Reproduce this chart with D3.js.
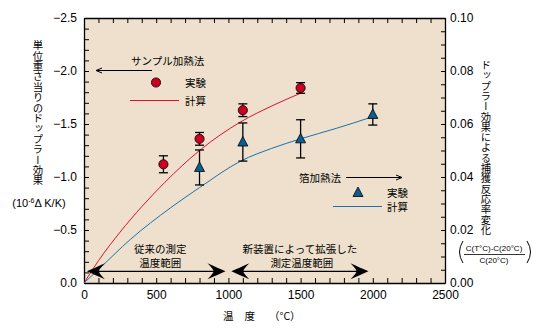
<!DOCTYPE html>
<html><head><meta charset="utf-8">
<script src="https://cdn.jsdelivr.net/npm/d3@7"></script>
<style>
body{margin:0;background:#fff}
svg{display:block}
text{font-family:"Liberation Sans",Arial,sans-serif;fill:#000}
.jp{font-family:"Noto Sans CJK JP",sans-serif}
</style></head><body>
<svg id="c" width="558" height="332"></svg>
<script>
// ---- data ----
const sampleTemp = [550, 800, 1100, 1500];
const sampleVal  = [-1.12, -1.36, -1.63, -1.84];
const sampleErr  = [0.08, 0.06, 0.06, 0.05];
const foilTemp   = [800, 1100, 1500, 2000];
const foilVal    = [-1.09, -1.33, -1.36, -1.59];
const foilErr    = [0.165, 0.18, 0.18, 0.10];
const calcSampleT = [0, 100, 250, 400, 560, 800, 1085, 1300, 1500];
const calcSampleV = [0, -0.21, -0.48, -0.72, -0.95, -1.25, -1.52, -1.67, -1.79];
const calcFoilT   = [0, 110, 320, 600, 800, 1085, 1300, 1500, 1750, 1980];
const calcFoilV   = [0, -0.14, -0.41, -0.71, -0.90, -1.15, -1.27, -1.36, -1.46, -1.56];
const xTicks = [0, 500, 1000, 1500, 2000, 2500];
const yTicks = [0, -0.5, -1.0, -1.5, -2.0, -2.5];
const y2Ticks = [0, 0.02, 0.04, 0.06, 0.08, 0.10];
const oldRange = [20, 980];
const newRange = [1020, 1970];

// ---- layout ----
const L = 84, R = 445, T = 18, B = 283;
const svg = d3.select("#c");
const x = d3.scaleLinear().domain([0, 2500]).range([L, R]);
const y = d3.scaleLinear().domain([0, -2.5]).range([B, T]);
const y2 = d3.scaleLinear().domain([0, 0.10]).range([B, T]);

svg.append("rect").attr("x", L).attr("y", T).attr("width", R - L).attr("height", B - T)
  .attr("fill", "rgb(238,224,205)");

// axes
const minorX = d3.range(0, 2501, 100);
const minorY = d3.range(0, 26).map(i => -i / 10);
const minorY2 = d3.range(0, 21).map(i => i * 0.005);

function styleAxis(g) {
  g.selectAll("path.domain").attr("stroke", "#000").attr("stroke-width", 1.3);
  g.selectAll("line").attr("stroke", "#000");
  g.selectAll("text").attr("font-size", 12).attr("fill", "#000").style("font-family", '"Liberation Sans",Arial,sans-serif');
}
svg.append("g").attr("transform", `translate(0,${B})`)
  .call(d3.axisBottom(x).tickValues(minorX).tickSize(-5).tickSizeOuter(0).tickFormat(""))
  .call(styleAxis);
svg.append("g").attr("transform", `translate(0,${B})`)
  .call(d3.axisBottom(x).tickValues(xTicks).tickSize(0).tickPadding(7).tickFormat(d3.format("d")))
  .call(g => g.select(".domain").remove()).call(styleAxis);
svg.append("g").attr("transform", `translate(0,${T})`)
  .call(d3.axisTop(x).tickValues(minorX).tickSize(-5).tickSizeOuter(0).tickFormat(""))
  .call(styleAxis);
svg.append("g").attr("transform", `translate(${L},0)`)
  .call(d3.axisLeft(y).tickValues(minorY).tickSize(-5).tickSizeOuter(0).tickFormat(""))
  .call(styleAxis);
svg.append("g").attr("transform", `translate(${L},0)`)
  .call(d3.axisLeft(y).tickValues(yTicks).tickSize(0).tickPadding(7).tickFormat(d3.format(".1f")))
  .call(g => g.select(".domain").remove()).call(styleAxis);
svg.append("g").attr("transform", `translate(${R},0)`)
  .call(d3.axisRight(y2).tickValues(minorY2).tickSize(-4).tickSizeOuter(0).tickFormat(""))
  .call(styleAxis);
svg.append("g").attr("transform", `translate(${R},0)`)
  .call(d3.axisRight(y2).tickValues(y2Ticks).tickSize(0).tickPadding(5).tickFormat(d3.format(".2f")))
  .call(g => g.select(".domain").remove()).call(styleAxis);

// curves
const line = d3.line().curve(d3.curveMonotoneX).x(d => x(d[0])).y(d => y(d[1]));
svg.append("path").datum(d3.zip(calcSampleT, calcSampleV)).attr("d", line)
  .attr("fill", "none").attr("stroke", "#e0102e").attr("stroke-width", 1);
svg.append("path").datum(d3.zip(calcFoilT, calcFoilV)).attr("d", line)
  .attr("fill", "none").attr("stroke", "#1672b0").attr("stroke-width", 1);

// error bars
function errBars(T_, V_, E_) {
  const g = svg.append("g").attr("stroke", "#000").attr("stroke-width", 1.3);
  T_.forEach((t, i) => {
    const cx = x(t), y0 = y(V_[i] - E_[i]), y1 = y(V_[i] + E_[i]);
    g.append("line").attr("x1", cx).attr("x2", cx).attr("y1", y0).attr("y2", y1);
    g.append("line").attr("x1", cx - 4.5).attr("x2", cx + 4.5).attr("y1", y0).attr("y2", y0);
    g.append("line").attr("x1", cx - 4.5).attr("x2", cx + 4.5).attr("y1", y1).attr("y2", y1);
  });
}
errBars(sampleTemp, sampleVal, sampleErr);
errBars(foilTemp, foilVal, foilErr);

const circleFill = "#cc0022", triFill = "#0b5f90";
const triPath = "M0,-5.5 L5,4 L-5,4 Z";
sampleTemp.forEach((t, i) => {
  svg.append("circle").attr("cx", x(t)).attr("cy", y(sampleVal[i])).attr("r", 4.6)
    .attr("fill", circleFill).attr("stroke", "#000").attr("stroke-width", 0.8);
});
foilTemp.forEach((t, i) => {
  svg.append("path").attr("d", triPath).attr("transform", `translate(${x(t)},${y(foilVal[i])})`)
    .attr("fill", triFill).attr("stroke", "#000").attr("stroke-width", 0.8);
});

// legends
function jp(tx, ty, s, anchor) {
  return svg.append("text").attr("class", "jp").attr("x", tx).attr("y", ty)
    .attr("font-size", 10.5).attr("text-anchor", anchor || "start").attr("dominant-baseline", "central").text(s);
}
// sample heating legend
jp(131, 60, "サンプル加熱法");
svg.append("line").attr("x1", 96).attr("x2", 152).attr("y1", 70.5).attr("y2", 70.5).attr("stroke", "#000").attr("stroke-width", 1);
svg.append("path").attr("d", "M96,70.5 L102,68 M96,70.5 L102,73").attr("stroke", "#000").attr("fill", "none");
svg.append("circle").attr("cx", 156).attr("cy", 82.5).attr("r", 4.6).attr("fill", circleFill).attr("stroke", "#000").attr("stroke-width", 0.8);
jp(185, 82, "実験");
svg.append("line").attr("x1", 130).attr("x2", 179).attr("y1", 100.5).attr("y2", 100.5).attr("stroke", "#e0102e");
jp(185, 100, "計算");
// foil heating legend
jp(299, 177, "箔加熱法");
svg.append("line").attr("x1", 346).attr("x2", 402).attr("y1", 177.5).attr("y2", 177.5).attr("stroke", "#000");
svg.append("path").attr("d", "M402,177.5 L396,175 M402,177.5 L396,180").attr("stroke", "#000").attr("fill", "none");
svg.append("path").attr("d", triPath).attr("transform", "translate(358,192.5)").attr("fill", triFill).attr("stroke", "#000").attr("stroke-width", 0.8);
jp(387, 192, "実験");
svg.append("line").attr("x1", 333).attr("x2", 382).attr("y1", 206.5).attr("y2", 206.5).attr("stroke", "#1672b0");
jp(387, 206, "計算");

// range arrows
const arrowY = y(-0.11);
const headPath = "M0,0 C5,-2 11,-5 18,-8 C14,-4 12,-1.5 12,0 C12,1.5 14,4 18,8 C11,5 5,2 0,0 Z";
function rangeArrow(r) {
  const a = x(r[0]), b = x(r[1]);
  svg.append("line").attr("x1", a + 6).attr("x2", b - 6).attr("y1", arrowY).attr("y2", arrowY).attr("stroke", "#000").attr("stroke-width", 1.3);
  svg.append("path").attr("d", headPath).attr("transform", `translate(${a},${arrowY})`).attr("fill", "#000");
  svg.append("path").attr("d", headPath).attr("transform", `translate(${b},${arrowY}) scale(-1,1)`).attr("fill", "#000");
}
rangeArrow(oldRange);
rangeArrow(newRange);
jp((x(oldRange[0]) + x(oldRange[1])) / 2 + 4, 248, "従来の測定", "middle");
jp((x(oldRange[0]) + x(oldRange[1])) / 2 + 4, 262, "温度範囲", "middle");
jp((x(newRange[0]) + x(newRange[1])) / 2, 248, "新装置によって拡張した", "middle");
jp((x(newRange[0]) + x(newRange[1])) / 2 + 2, 262, "測定温度範囲", "middle");

// axis titles
svg.append("text").attr("class", "jp").attr("x", 38).attr("y", 40).attr("font-size", 10.4)
  .style("writing-mode", "vertical-rl").text("単位重さ当りのドップラー効果");
const ul = svg.append("text").attr("x", 39).attr("y", 207).attr("font-size", 11).attr("text-anchor", "middle");
ul.append("tspan").text("(10");
ul.append("tspan").attr("font-size", 7).attr("dy", -4).text("-6");
ul.append("tspan").attr("dy", 4).text("Δ K/K)");

svg.append("text").attr("class", "jp").attr("x", 486).attr("y", 60).attr("font-size", 10.3)
  .style("writing-mode", "vertical-rl").text("ドップラー効果による捕獲反応率変化");
svg.append("text").attr("x", 494).attr("y", 251).attr("font-size", 8).attr("text-anchor", "middle").text("C(T°C)-C(20°C)");
svg.append("line").attr("x1", 464).attr("x2", 525).attr("y1", 254.5).attr("y2", 254.5).attr("stroke", "#000").attr("stroke-width", 0.8);
svg.append("text").attr("x", 494).attr("y", 263).attr("font-size", 8).attr("text-anchor", "middle").text("C(20°C)");
svg.append("path").attr("d", "M463,241 Q456,252 463,263").attr("fill", "none").attr("stroke", "#000").attr("stroke-width", 1);
svg.append("path").attr("d", "M527,241 Q534,252 527,263").attr("fill", "none").attr("stroke", "#000").attr("stroke-width", 1);

// x title
const xt = svg.append("text").attr("class", "jp").attr("x", 223).attr("y", 315).attr("font-size", 10.5).attr("dominant-baseline", "central");
xt.append("tspan").text("温");
xt.append("tspan").attr("dx", 11).text("度");
xt.append("tspan").attr("dx", 14).text("（°C）");
</script></body></html>
